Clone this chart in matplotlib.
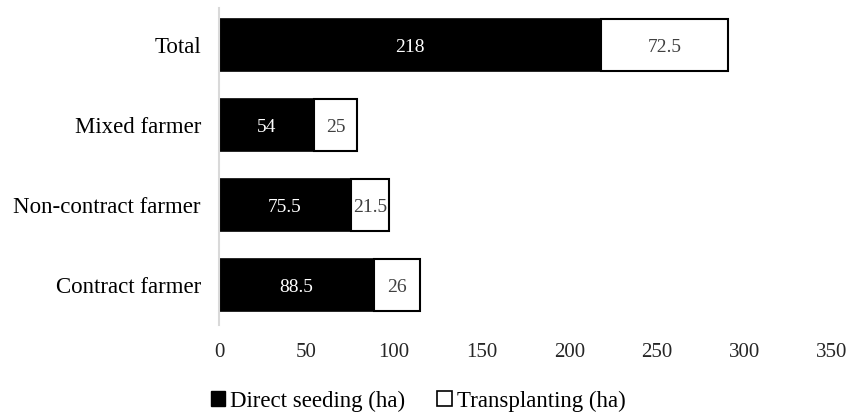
import numpy as np
import matplotlib.pyplot as plt
from matplotlib.patches import Patch

plt.rcParams['font.family'] = ['Liberation Serif', 'DejaVu Serif']

# categories listed bottom to top
groups = ['Contract farmer', 'Non-contract farmer', 'Mixed farmer', 'Total']
direct = [88.5, 75.5, 54, 218]
transplant = [26, 21.5, 25, 72.5]
xticks = [0, 50, 100, 150, 200, 250, 300, 350]

fig = plt.figure(figsize=(8.53, 4.18), dpi=100)
ax = fig.add_axes([0.2567, 0.2225, 0.7187, 0.7585])

y = np.arange(len(groups))
h = 0.65
ax.barh(y, direct, height=h, color='black', edgecolor='black', linewidth=1.2)
ax.barh(y, transplant, left=direct, height=h, color='white', edgecolor='black', linewidth=1.5)

for i in range(len(groups)):
    ax.text(direct[i] / 2, y[i] - 0.03, f'{direct[i]:g}', ha='center', va='center',
            color='white', fontsize=14)
    ax.text(direct[i] + transplant[i] / 2, y[i] - 0.03, f'{transplant[i]:g}', ha='center',
            va='center', color='#404040', fontsize=14)

ax.set_xlim(0, 350)
ax.set_ylim(-0.5, 3.46)
ax.set_xticks(xticks)
ax.set_yticks(y)
ax.set_yticklabels(groups, fontsize=16.5)
ax.tick_params(axis='x', length=0, pad=13, labelsize=15, colors='#262626')
ax.tick_params(axis='y', length=0, pad=13)
for s in ['top', 'right', 'bottom']:
    ax.spines[s].set_visible(False)
ax.spines['left'].set_color('#d9d9d9')
ax.spines['left'].set_linewidth(1.5)

handles = [Patch(facecolor='black', edgecolor='black', label='Direct seeding (ha)'),
           Patch(facecolor='white', edgecolor='black', linewidth=1.2, label='Transplanting (ha)')]
fig.legend(handles=handles, loc='center', bbox_to_anchor=(0.49, 0.04), ncol=2,
           frameon=False, fontsize=16.5, handlelength=0.65, handleheight=0.65,
           handletextpad=0.2, columnspacing=1.4)

fig.savefig('out.png', dpi=100)
